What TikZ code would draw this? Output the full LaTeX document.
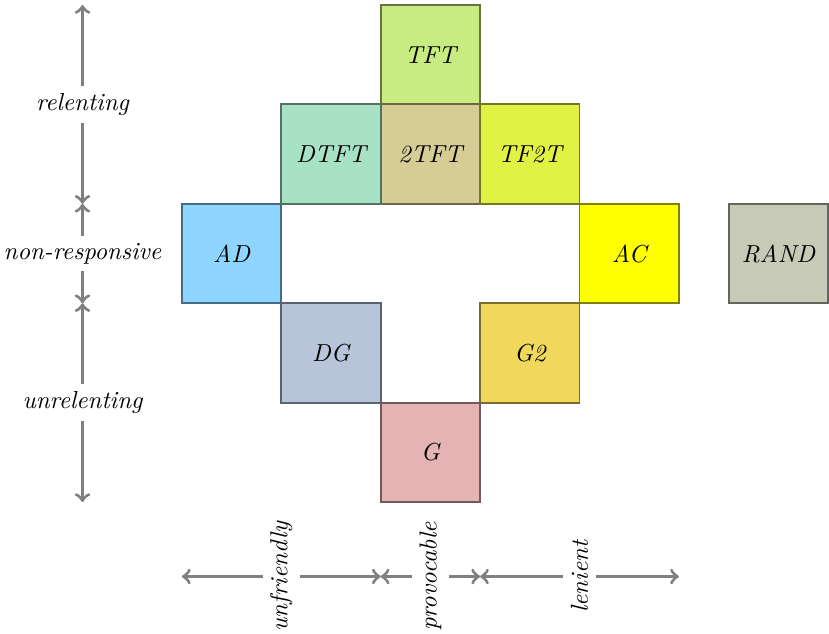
\documentclass[tikz,border=0pt]{standalone}
\usetikzlibrary{shapes,arrows}
\definecolor{tftcol}{HTML}{C8EB82}
\definecolor{dtftcol}{HTML}{A8E2C4}
\definecolor{twotftcol}{HTML}{D6CD96}
\definecolor{tftwotcol}{HTML}{E2F244}
\definecolor{adcol}{HTML}{8ED6FF}
\definecolor{accol}{HTML}{FFFF00}
\definecolor{randcol}{HTML}{C8CAB8}
\definecolor{dgcol}{HTML}{B8C4DA}
\definecolor{gtwocol}{HTML}{F0D85C}
\definecolor{gcol}{HTML}{E4B4B4}
\tikzstyle{strat} = [rectangle, thick,
    minimum width=1.42cm, minimum height=1.42cm, font=\itshape, inner sep=0pt]
\tikzstyle{axis} = [draw, gray, line width=1.3pt, <->]
\tikzstyle{lbl} = [fill=white, text=black, font=\itshape, inner sep=3pt]

\begin{document}
\begin{tikzpicture}[x=1.42cm, y=1.42cm, node distance=1.42cm]
    \useasboundingbox (-2.33,-3.82) rectangle (6.01,2.55);
    % Place strategies
    \node [strat, fill=adcol, draw=adcol!50!black] (AD) at (0,0) {AD};
    \node [strat, fill=tftcol, draw=tftcol!50!black] (TFT) at (2,2) {TFT};
    \node [strat, fill=twotftcol, draw=twotftcol!50!black, below of=TFT] (twoTFT) {2TFT};
    \node [strat, fill=dtftcol, draw=dtftcol!50!black, left of=twoTFT] (DTFT) {DTFT};
    \node [strat, fill=tftwotcol, draw=tftwotcol!50!black, right of=twoTFT] (TFtwoT) {TF2T};
    \node [strat, fill=accol, draw=accol!50!black, right of=TFtwoT, yshift=-1.42cm] (AC) {AC};
    \node [strat, fill=randcol, draw=randcol!50!black, right of=AC, node distance=2.13cm] (RAND) {RAND};
    \node [strat, fill=dgcol, draw=dgcol!50!black, below of=DTFT, node distance=2.84cm] (DG) {DG};
    \node [strat, fill=gtwocol, draw=gtwocol!50!black, below of=TFtwoT, node distance=2.84cm] (Gtwo) {G2};
    \node [strat, fill=gcol, draw=gcol!50!black, below of=twoTFT, node distance=4.26cm] (G) {G};
    % Axis ends
    \coordinate (v0) at (-1.5,2.5);
    \coordinate (v1) at (-1.5,0.5);
    \coordinate (v2) at (-1.5,-0.5);
    \coordinate (v3) at (-1.5,-2.5);
    \coordinate (h0) at (-0.5,-3.25);
    \coordinate (h1) at (1.5,-3.25);
    \coordinate (h2) at (2.5,-3.25);
    \coordinate (h3) at (4.5,-3.25);
    % Draw axes
    \path [axis] (v1) -- node [lbl] {relenting} (v0);
    \path [axis] (v2) -- node [lbl] {non-responsive} (v1);
    \path [axis] (v3) -- node [lbl] {unrelenting} (v2);
    \path [axis] (h0) -- node [lbl, rotate=90] {unfriendly} (h1);
    \path [axis] (h1) -- node [lbl, rotate=90] {provocable} (h2);
    \path [axis] (h2) -- node [lbl, rotate=90] {lenient} (h3);
\end{tikzpicture}
\end{document}
